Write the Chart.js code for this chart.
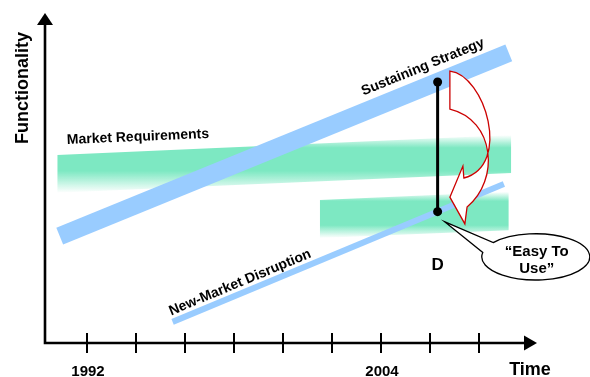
<!DOCTYPE html>
<html>
<head>
<meta charset="utf-8">
<script src="https://cdn.jsdelivr.net/npm/chart.js@4.4.1/dist/chart.umd.min.js"></script>
<style>
  html, body { margin: 0; padding: 0; background: #fff; }
  #wrap { width: 590px; height: 377px; position: relative; }
</style>
</head>
<body>
<div id="wrap"><canvas id="disruptionChart"></canvas></div>
<script>
// time axis ticks (every two years) and the ones that carry a label
const tickYears = [1992, 1994, 1996, 1998, 2000, 2002, 2004, 2006, 2008];
const tickLabels = ['1992', '', '', '', '', '', '2004', '', ''];

// performance trajectories: start / end year and functionality
const sustainingYears = [1990.9, 2009.2];
const sustainingValues = [32.4, 87.9];
const disruptionYears = [1995.5, 2009.0];
const disruptionValues = [6.4, 48.2];

// market requirement bands (upper and lower edges)
const marketYears = [1990.8, 2009.3];
const marketTop = [57.0, 63.0];
const marketBottom = [45.5, 51.5];
const newMarketYears = [2001.5, 2009.2];
const newMarketTop = [43.3, 45.8];
const newMarketBottom = [31.8, 34.2];

// jump from the disruptive trajectory up to the sustaining one
const gapYear = 2006.3;
const gapValues = [39.8, 79.1];

const FONT = "'Liberation Sans', Arial, Helvetica, sans-serif";
const BLUE = '#99ccff';
const GREEN = [125, 232, 194];

function toPoints(xs, ys) {
    return xs.map((x, i) => ({ x: x, y: ys[i] }));
}

function green(a) {
    return 'rgba(' + GREEN.join(',') + ',' + a + ')';
}

// vertical fade, transparent at both edges of the band
function bandFill(topVal, bottomVal, stops) {
    return function (context) {
        const chart = context.chart;
        if (!chart.chartArea) return green(0.8);
        const y = chart.scales.y;
        const g = chart.ctx.createLinearGradient(0, y.getPixelForValue(topVal), 0, y.getPixelForValue(bottomVal));
        g.addColorStop(0, green(0));
        g.addColorStop(stops[0], green(1));
        g.addColorStop(stops[1], green(1));
        g.addColorStop(1, green(0));
        return g;
    };
}

// curved red arrow from the sustaining point down to the disruptive one
const swoop = {
    start: [2006.80, 82.4],
    outer: [[2008.23, 81.2], [2009.33, 53.9], [2007.37, 50.0]],
    head: [[2007.33, 53.6], [2006.80, 44.2], [2007.41, 36.1], [2007.50, 41.2]],
    inner: [[2008.84, 49.4], [2008.64, 67.6], [2006.80, 70.9]]
};

// speech bubble
const bubble = { tip: [2006.6, 36.7], center: [2010.3, 26.1], rx: 2.2, ry: 7.0, gap: [-169, -142] };

const notesPlugin = {
    id: 'notes',
    afterDatasetsDraw(chart) {
        const ctx = chart.ctx;
        const xs = chart.scales.x, ys = chart.scales.y;
        const X = v => xs.getPixelForValue(v);
        const Y = v => ys.getPixelForValue(v);
        const P = p => [X(p[0]), Y(p[1])];
        const area = chart.chartArea;

        ctx.save();

        // red arrow
        ctx.beginPath();
        let p = P(swoop.start);
        ctx.moveTo(p[0], p[1]);
        let c1 = P(swoop.outer[0]), c2 = P(swoop.outer[1]), e = P(swoop.outer[2]);
        ctx.bezierCurveTo(c1[0], c1[1], c2[0], c2[1], e[0], e[1]);
        swoop.head.forEach(h => { const q = P(h); ctx.lineTo(q[0], q[1]); });
        c1 = P(swoop.inner[0]); c2 = P(swoop.inner[1]); e = P(swoop.inner[2]);
        ctx.bezierCurveTo(c1[0], c1[1], c2[0], c2[1], e[0], e[1]);
        ctx.closePath();
        ctx.fillStyle = '#ffffff';
        ctx.fill();
        ctx.strokeStyle = '#cc0000';
        ctx.lineWidth = 1.3;
        ctx.lineJoin = 'miter';
        ctx.stroke();

        // callout bubble
        const cx = X(bubble.center[0]), cy = Y(bubble.center[1]);
        const rx = X(bubble.center[0] + bubble.rx) - cx;
        const ry = cy - Y(bubble.center[1] + bubble.ry);
        const a0 = bubble.gap[1] * Math.PI / 180, a1 = (bubble.gap[0] + 360) * Math.PI / 180;
        const tip = P(bubble.tip);
        ctx.beginPath();
        ctx.moveTo(tip[0], tip[1]);
        ctx.lineTo(cx + rx * Math.cos(a0), cy + ry * Math.sin(a0));
        ctx.ellipse(cx, cy, rx, ry, 0, a0, a1, false);
        ctx.closePath();
        ctx.fillStyle = '#ffffff';
        ctx.fill();
        ctx.strokeStyle = '#000000';
        ctx.lineWidth = 1.3;
        ctx.stroke();

        ctx.fillStyle = '#000000';
        ctx.textAlign = 'center';
        ctx.textBaseline = 'alphabetic';
        ctx.font = 'bold 15px ' + FONT;
        ctx.fillText('\u201CEasy To', cx + 1, cy - 1);
        ctx.fillText('Use\u201D', cx + 1, cy + 16);

        ctx.font = 'bold 17px ' + FONT;
        ctx.fillText('D', X(2006.3), Y(22.0));

        // labels along the trajectories
        function slopeLabel(text, xv, yv, years, values) {
            const ang = Math.atan2(Y(values[1]) - Y(values[0]), X(years[1]) - X(years[0]));
            ctx.save();
            ctx.translate(X(xv), Y(yv));
            ctx.rotate(ang);
            ctx.textAlign = 'center';
            ctx.textBaseline = 'middle';
            ctx.font = 'bold 14px ' + FONT;
            ctx.fillText(text, 0, 0);
            ctx.restore();
        }
        slopeLabel('Sustaining Strategy', 2005.70, 83.6, sustainingYears, sustainingValues);
        slopeLabel('New-Market Disruption', 1998.25, 18.3, disruptionYears, disruptionValues);
        slopeLabel('Market Requirements', 1994.09, 62.4, marketYears, marketTop);

        // axes with arrowheads
        ctx.strokeStyle = '#000000';
        ctx.fillStyle = '#000000';
        ctx.lineWidth = 2.6;
        ctx.lineCap = 'butt';
        ctx.beginPath();
        ctx.moveTo(area.left, area.top + 10);
        ctx.lineTo(area.left, area.bottom);
        ctx.lineTo(area.right - 10, area.bottom);
        ctx.stroke();

        ctx.beginPath();
        ctx.moveTo(area.left, area.top);
        ctx.lineTo(area.left - 8, area.top + 12);
        ctx.lineTo(area.left + 8, area.top + 12);
        ctx.closePath();
        ctx.fill();

        ctx.beginPath();
        ctx.moveTo(area.right, area.bottom);
        ctx.lineTo(area.right - 13, area.bottom - 7.5);
        ctx.lineTo(area.right - 13, area.bottom + 7.5);
        ctx.closePath();
        ctx.fill();

        // ticks crossing the time axis
        ctx.lineWidth = 2;
        ctx.font = 'bold 15px ' + FONT;
        ctx.textAlign = 'center';
        ctx.textBaseline = 'alphabetic';
        tickYears.forEach((yr, i) => {
            const tx = Math.round(X(yr));
            ctx.beginPath();
            ctx.moveTo(tx, area.bottom - 10);
            ctx.lineTo(tx, area.bottom + 10);
            ctx.stroke();
            if (tickLabels[i]) ctx.fillText(tickLabels[i], tx + 1, area.bottom + 33);
        });

        // axis titles
        ctx.font = 'bold 18px ' + FONT;
        ctx.textAlign = 'center';
        ctx.fillText('Time', area.right - 7, area.bottom + 32);

        ctx.save();
        ctx.translate(area.left - 17, 88);
        ctx.rotate(-Math.PI / 2);
        ctx.textBaseline = 'alphabetic';
        ctx.fillText('Functionality', 0, 0);
        ctx.restore();

        ctx.restore();
    }
};

const ctx = document.getElementById('disruptionChart').getContext('2d');
new Chart(ctx, {
    type: 'line',
    data: {
        datasets: [
            {
                data: toPoints(marketYears, marketTop),
                borderWidth: 0,
                pointRadius: 0,
                fill: '+1',
                backgroundColor: bandFill(marketTop[1], marketBottom[0], [0.22, 0.62]),
                order: 3
            },
            {
                data: toPoints(marketYears, marketBottom),
                borderWidth: 0,
                pointRadius: 0,
                fill: false,
                order: 3
            },
            {
                data: toPoints(newMarketYears, newMarketTop),
                borderWidth: 0,
                pointRadius: 0,
                fill: '+1',
                backgroundColor: bandFill(newMarketTop[1], newMarketBottom[0], [0.2, 0.72]),
                order: 3
            },
            {
                data: toPoints(newMarketYears, newMarketBottom),
                borderWidth: 0,
                pointRadius: 0,
                fill: false,
                order: 3
            },
            {
                label: 'Sustaining Strategy',
                data: toPoints(sustainingYears, sustainingValues),
                borderColor: BLUE,
                borderWidth: 18,
                borderCapStyle: 'butt',
                pointRadius: 0,
                fill: false,
                order: 2
            },
            {
                label: 'New-Market Disruption',
                data: toPoints(disruptionYears, disruptionValues),
                borderColor: BLUE,
                borderWidth: 6,
                borderCapStyle: 'butt',
                pointRadius: 0,
                fill: false,
                order: 2
            },
            {
                data: toPoints([gapYear, gapYear], gapValues),
                borderColor: '#000000',
                borderWidth: 3,
                pointRadius: 4.5,
                pointBackgroundColor: '#000000',
                pointBorderWidth: 0,
                fill: false,
                order: 1
            }
        ]
    },
    options: {
        responsive: true,
        maintainAspectRatio: false,
        animation: false,
        events: [],
        layout: { padding: { left: 45, right: 53, top: 13, bottom: 34 } },
        scales: {
            x: { type: 'linear', min: 1990.3, max: 2010.35, display: false },
            y: { type: 'linear', min: 0, max: 100, display: false }
        },
        plugins: {
            legend: { display: false },
            tooltip: { enabled: false }
        }
    },
    plugins: [notesPlugin]
});
</script>
</body>
</html>
